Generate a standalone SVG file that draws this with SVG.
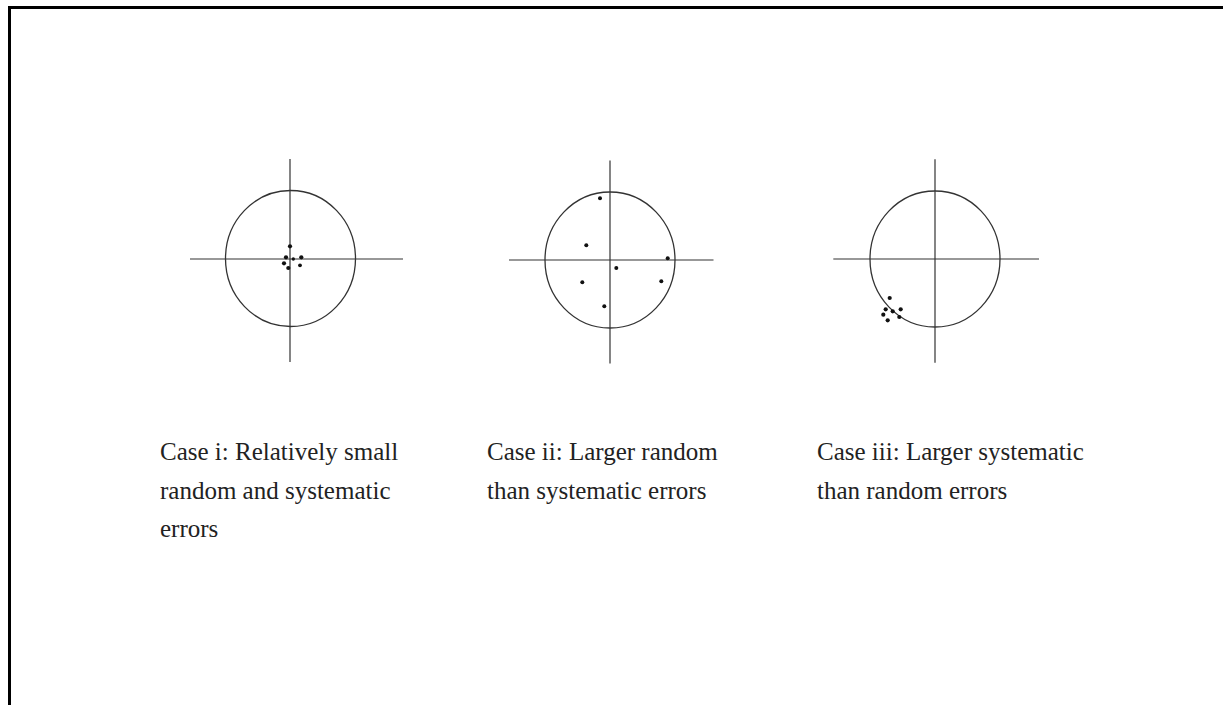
<svg xmlns="http://www.w3.org/2000/svg" width="1224" height="705" viewBox="0 0 1224 705">
<style>
.ax{stroke:#333;stroke-width:1.2;fill:none}
.ring{stroke:#333;stroke-width:1.3;fill:none}
.dot{fill:#111}
.lbl{font-family:"Liberation Serif","Times New Roman",serif;font-size:25px;fill:#222}
</style>
<rect width="1224" height="705" fill="#fff"/>
<path d="M9.5 705 V7.5 H1223" stroke="#000" stroke-width="3" fill="none"/>
<g id="case1">
<line class="ax" x1="290" y1="159" x2="290" y2="362"/>
<line class="ax" x1="190" y1="259" x2="403" y2="259"/>
<ellipse class="ring" cx="290.5" cy="258.5" rx="65" ry="68"/>
<circle class="dot" cx="290" cy="246.3" r="2.1"/>
<circle class="dot" cx="286" cy="257.3" r="2.1"/>
<circle class="dot" cx="293.3" cy="259" r="1.7"/>
<circle class="dot" cx="301.3" cy="257.3" r="2.1"/>
<circle class="dot" cx="284" cy="263.3" r="2.1"/>
<circle class="dot" cx="288.3" cy="268" r="2.1"/>
<circle class="dot" cx="300" cy="265.3" r="1.9"/>
</g>
<g id="case2">
<line class="ax" x1="610" y1="160.5" x2="610" y2="363.5"/>
<line class="ax" x1="509" y1="260" x2="713.5" y2="260"/>
<ellipse class="ring" cx="610" cy="260" rx="65" ry="68"/>
<circle class="dot" cx="600" cy="198.3" r="2"/>
<circle class="dot" cx="586.3" cy="245.3" r="2"/>
<circle class="dot" cx="667.7" cy="258.3" r="2"/>
<circle class="dot" cx="616.3" cy="268" r="2"/>
<circle class="dot" cx="582.3" cy="282.3" r="2"/>
<circle class="dot" cx="661.3" cy="281.3" r="2"/>
<circle class="dot" cx="604.3" cy="306.3" r="2"/>
</g>
<g id="case3">
<line class="ax" x1="935" y1="159.3" x2="935" y2="362.7"/>
<line class="ax" x1="833.3" y1="259" x2="1039" y2="259"/>
<ellipse class="ring" cx="935" cy="259" rx="65" ry="68"/>
<circle class="dot" cx="889.7" cy="298" r="2.1"/>
<circle class="dot" cx="885.7" cy="309.3" r="2.1"/>
<circle class="dot" cx="892.7" cy="311.3" r="2.1"/>
<circle class="dot" cx="900.7" cy="309.3" r="2.1"/>
<circle class="dot" cx="883.3" cy="314.7" r="2.1"/>
<circle class="dot" cx="899.3" cy="317" r="2.1"/>
<circle class="dot" cx="887.7" cy="320.3" r="2.1"/>
</g>
<g id="label1">
<text class="lbl" x="160" y="460">Case i: Relatively small</text>
<text class="lbl" x="160" y="499">random and systematic</text>
<text class="lbl" x="160" y="537">errors</text>
</g>
<g id="label2">
<text class="lbl" x="487" y="460">Case ii: Larger random</text>
<text class="lbl" x="487" y="499">than systematic errors</text>
</g>
<g id="label3">
<text class="lbl" x="817" y="460">Case iii: Larger systematic</text>
<text class="lbl" x="817" y="499">than random errors</text>
</g>
<g id="connectors"></g>
</svg>
